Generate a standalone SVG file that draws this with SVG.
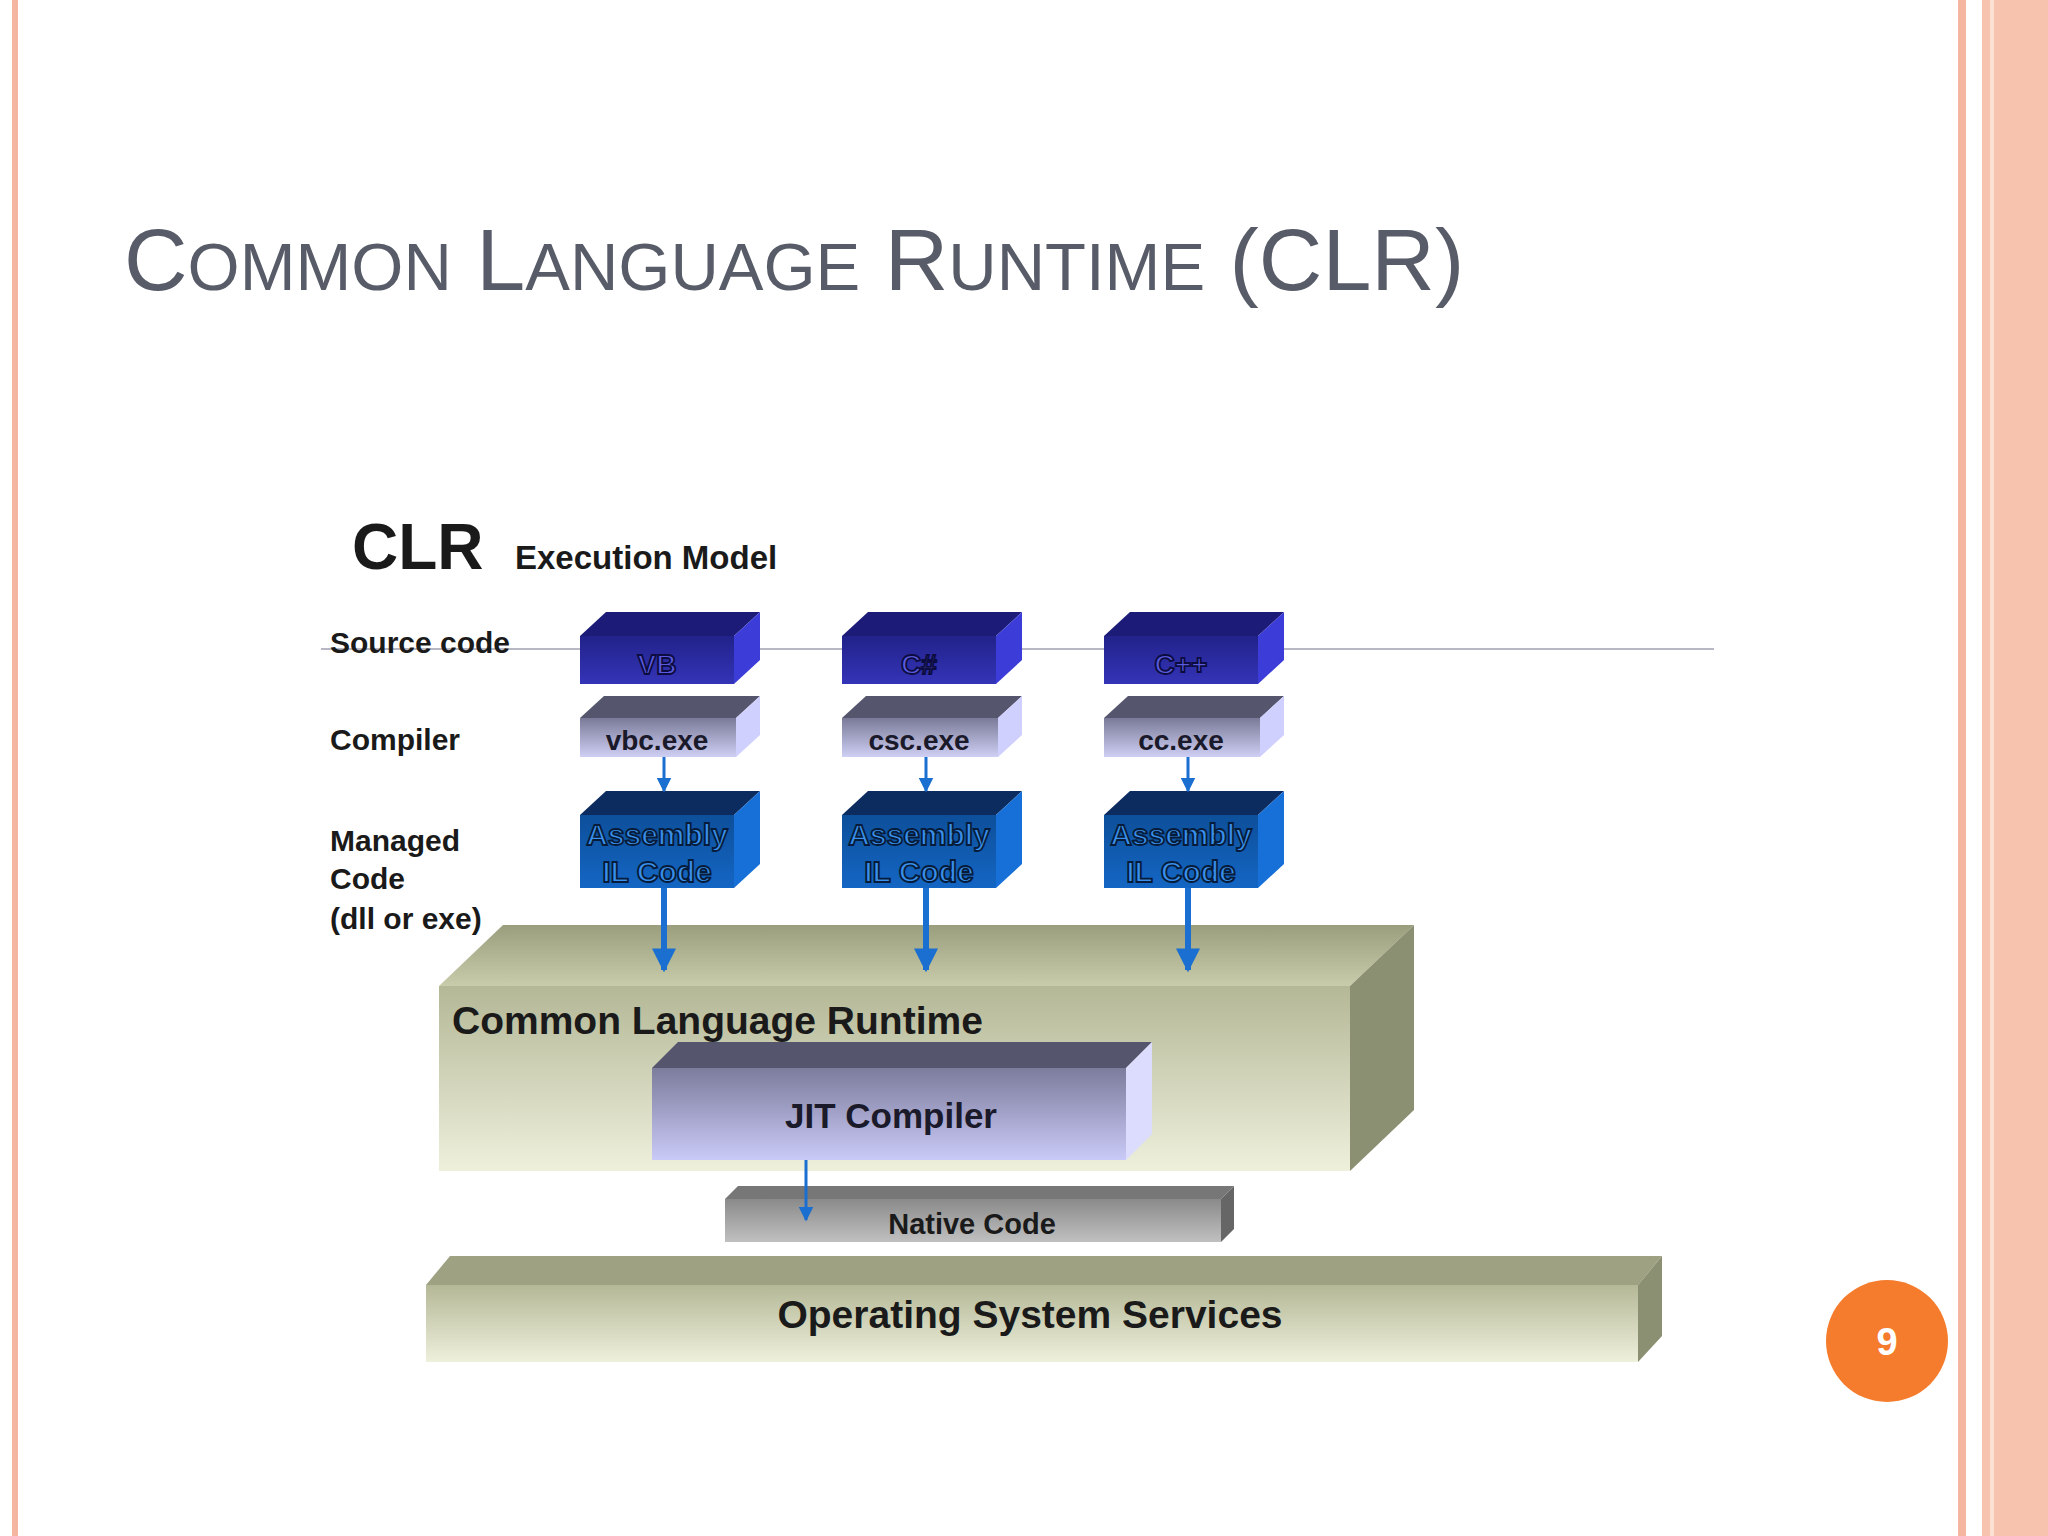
<svg xmlns="http://www.w3.org/2000/svg" width="2048" height="1536" viewBox="0 0 2048 1536">
<defs>
<linearGradient id="gSrc" x1="0" y1="0" x2="0" y2="1"><stop offset="0" stop-color="#22228a"/><stop offset="1" stop-color="#3434b8"/></linearGradient>
<linearGradient id="gCmp" x1="0" y1="0" x2="0" y2="1"><stop offset="0" stop-color="#7a7a98"/><stop offset="1" stop-color="#cfcff5"/></linearGradient>
<linearGradient id="gAsm" x1="0" y1="0" x2="0" y2="1"><stop offset="0" stop-color="#0d4f9a"/><stop offset="1" stop-color="#1466c4"/></linearGradient>
<linearGradient id="gSlab" x1="0" y1="0" x2="0" y2="1"><stop offset="0" stop-color="#b4b896"/><stop offset="1" stop-color="#eef0dc"/></linearGradient>
<linearGradient id="gSlabTop" x1="0" y1="0" x2="0" y2="1"><stop offset="0" stop-color="#9a9e7c"/><stop offset="1" stop-color="#c8ccaa"/></linearGradient>
<linearGradient id="gJit" x1="0" y1="0" x2="0" y2="1"><stop offset="0" stop-color="#7c7c9c"/><stop offset="1" stop-color="#cacaf8"/></linearGradient>
<linearGradient id="gNat" x1="0" y1="0" x2="0" y2="1"><stop offset="0" stop-color="#8a8a8a"/><stop offset="1" stop-color="#c0c0c0"/></linearGradient>
<marker id="ah" viewBox="0 0 10 10" refX="9" refY="5" markerWidth="4" markerHeight="4" orient="auto" markerUnits="strokeWidth"><path d="M0,0 L10,5 L0,10 z" fill="#1a6fd0"/></marker>
<marker id="ahs" viewBox="0 0 10 10" refX="9" refY="5" markerWidth="5" markerHeight="5" orient="auto" markerUnits="strokeWidth"><path d="M0,0 L10,5 L0,10 z" fill="#1a6fd0"/></marker>
</defs>
<style>
.lbl{font-family:"Liberation Sans",Arial,sans-serif;font-weight:bold;font-size:30px;fill:#1a1a1a}
.box{font-family:"Liberation Sans",Arial,sans-serif;font-weight:bold;text-anchor:middle}
.src{fill:#5a5ae0;stroke:#0c0c40;stroke-width:1.8}
.asm{fill:#3a90ee;stroke:#061c3a;stroke-width:1.8}
.arr{stroke:#1a6fd0;fill:none}
</style>
<rect width="2048" height="1536" fill="#ffffff"/>
<rect x="12" y="0" width="6" height="1536" fill="#f4b6a0"/>
<rect x="1958" y="0" width="8" height="1536" fill="#f4b6a0"/>
<rect x="1982" y="0" width="66" height="1536" fill="#f7c3ae"/>
<rect x="1990" y="0" width="4" height="1536" fill="#fbe0d4"/>
<text x="124" y="290" font-family="Liberation Sans,Arial,sans-serif" font-size="88" fill="#585c68">C<tspan font-size="67">OMMON</tspan> L<tspan font-size="67">ANGUAGE</tspan> R<tspan font-size="67">UNTIME</tspan> (CLR)</text>
<text x="352" y="569" font-family="Liberation Sans,Arial,sans-serif" font-weight="bold" font-size="64" fill="#1a1a1a">CLR</text>
<text x="515" y="569" font-family="Liberation Sans,Arial,sans-serif" font-weight="bold" font-size="33" fill="#1a1a1a">Execution Model</text>
<line x1="321" y1="649" x2="1714" y2="649" stroke="#b8b8c4" stroke-width="2"/>
<text class="lbl" x="330" y="653">Source code</text>
<text class="lbl" x="330" y="750">Compiler</text>
<text class="lbl" x="330" y="851">Managed</text>
<text class="lbl" x="330" y="889">Code</text>
<text class="lbl" x="330" y="929">(dll or exe)</text>
<g id="clr">
<polygon points="439,986 503,925 1414,925 1350,986" fill="url(#gSlabTop)"/>
<polygon points="1350,986 1414,925 1414,1110 1350,1171" fill="#8c9072"/>
<rect x="439" y="986" width="911" height="185" fill="url(#gSlab)"/>
<text x="452" y="1034" font-family="Liberation Sans,Arial,sans-serif" font-weight="bold" font-size="39" fill="#1a1a1a">Common Language Runtime</text>
</g>
<g id="jit">
<polygon points="652,1068 678,1042 1152,1042 1126,1068" fill="#55556e"/>
<polygon points="1126,1068 1152,1042 1152,1134 1126,1160" fill="#dcdcff"/>
<rect x="652" y="1068" width="474" height="92" fill="url(#gJit)"/>
<text class="box" x="891" y="1128" font-size="35" fill="#1a1a2a">JIT Compiler</text>
</g>
<g id="native">
<polygon points="725,1199 738,1186 1234,1186 1221,1199" fill="#777"/>
<polygon points="1221,1199 1234,1186 1234,1229 1221,1242" fill="#666"/>
<rect x="725" y="1199" width="496" height="43" fill="url(#gNat)"/>
<text class="box" x="972" y="1234" font-size="29" fill="#1a1a1a">Native Code</text>
</g>
<g id="os">
<polygon points="426,1285 450,1256 1662,1256 1638,1285" fill="#9ea282"/>
<polygon points="1638,1285 1662,1256 1662,1336 1638,1362" fill="#8c9072"/>
<rect x="426" y="1285" width="1212" height="77" fill="url(#gSlab)"/>
<text class="box" x="1030" y="1328" font-size="39" fill="#1a1a1a">Operating System Services</text>
</g>
<g id="col1">
<polygon points="580,636 606,612 760,612 734,636" fill="#1c1c78"/>
<polygon points="734,636 760,612 760,660 734,684" fill="#3c3cd8"/>
<rect x="580" y="636" width="154" height="48" fill="url(#gSrc)"/>
<text class="box src" x="657" y="674" font-size="28">VB</text>
<polygon points="580,718 604,696 760,696 736,718" fill="#55556e"/>
<polygon points="736,718 760,696 760,735 736,757" fill="#d0d0ff"/>
<rect x="580" y="718" width="156" height="39" fill="url(#gCmp)"/>
<text class="box" x="657" y="750" font-size="28" fill="#1a1a2a">vbc.exe</text>
<polygon points="580,815 606,791 760,791 734,815" fill="#0c2c60"/>
<polygon points="734,815 760,791 760,864 734,888" fill="#1670d8"/>
<rect x="580" y="815" width="154" height="73" fill="url(#gAsm)"/>
<text class="box asm" x="657" y="845" font-size="30">Assembly</text>
<text class="box asm" x="657" y="882" font-size="30">IL Code</text>
</g>
<g id="col2">
<polygon points="842,636 868,612 1022,612 996,636" fill="#1c1c78"/>
<polygon points="996,636 1022,612 1022,660 996,684" fill="#3c3cd8"/>
<rect x="842" y="636" width="154" height="48" fill="url(#gSrc)"/>
<text class="box src" x="919" y="674" font-size="28">C#</text>
<polygon points="842,718 866,696 1022,696 998,718" fill="#55556e"/>
<polygon points="998,718 1022,696 1022,735 998,757" fill="#d0d0ff"/>
<rect x="842" y="718" width="156" height="39" fill="url(#gCmp)"/>
<text class="box" x="919" y="750" font-size="28" fill="#1a1a2a">csc.exe</text>
<polygon points="842,815 868,791 1022,791 996,815" fill="#0c2c60"/>
<polygon points="996,815 1022,791 1022,864 996,888" fill="#1670d8"/>
<rect x="842" y="815" width="154" height="73" fill="url(#gAsm)"/>
<text class="box asm" x="919" y="845" font-size="30">Assembly</text>
<text class="box asm" x="919" y="882" font-size="30">IL Code</text>
</g>
<g id="col3">
<polygon points="1104,636 1130,612 1284,612 1258,636" fill="#1c1c78"/>
<polygon points="1258,636 1284,612 1284,660 1258,684" fill="#3c3cd8"/>
<rect x="1104" y="636" width="154" height="48" fill="url(#gSrc)"/>
<text class="box src" x="1181" y="674" font-size="28">C++</text>
<polygon points="1104,718 1128,696 1284,696 1260,718" fill="#55556e"/>
<polygon points="1260,718 1284,696 1284,735 1260,757" fill="#d0d0ff"/>
<rect x="1104" y="718" width="156" height="39" fill="url(#gCmp)"/>
<text class="box" x="1181" y="750" font-size="28" fill="#1a1a2a">cc.exe</text>
<polygon points="1104,815 1130,791 1284,791 1258,815" fill="#0c2c60"/>
<polygon points="1258,815 1284,791 1284,864 1258,888" fill="#1670d8"/>
<rect x="1104" y="815" width="154" height="73" fill="url(#gAsm)"/>
<text class="box asm" x="1181" y="845" font-size="30">Assembly</text>
<text class="box asm" x="1181" y="882" font-size="30">IL Code</text>
</g>
<g id="connectors">
<line class="arr" x1="664" y1="757" x2="664" y2="791" stroke-width="3" marker-end="url(#ahs)"/>
<line class="arr" x1="926" y1="757" x2="926" y2="791" stroke-width="3" marker-end="url(#ahs)"/>
<line class="arr" x1="1188" y1="757" x2="1188" y2="791" stroke-width="3" marker-end="url(#ahs)"/>
<line class="arr" x1="664" y1="888" x2="664" y2="970" stroke-width="6" marker-end="url(#ah)"/>
<line class="arr" x1="926" y1="888" x2="926" y2="970" stroke-width="6" marker-end="url(#ah)"/>
<line class="arr" x1="1188" y1="888" x2="1188" y2="970" stroke-width="6" marker-end="url(#ah)"/>
<line class="arr" x1="806" y1="1160" x2="806" y2="1220" stroke-width="3" marker-end="url(#ahs)"/>
</g>
<circle cx="1887" cy="1341" r="61" fill="#f47c2c"/>
<text x="1887" y="1355" text-anchor="middle" font-family="Liberation Sans,Arial,sans-serif" font-weight="bold" font-size="38" fill="#ffffff">9</text>
</svg>
